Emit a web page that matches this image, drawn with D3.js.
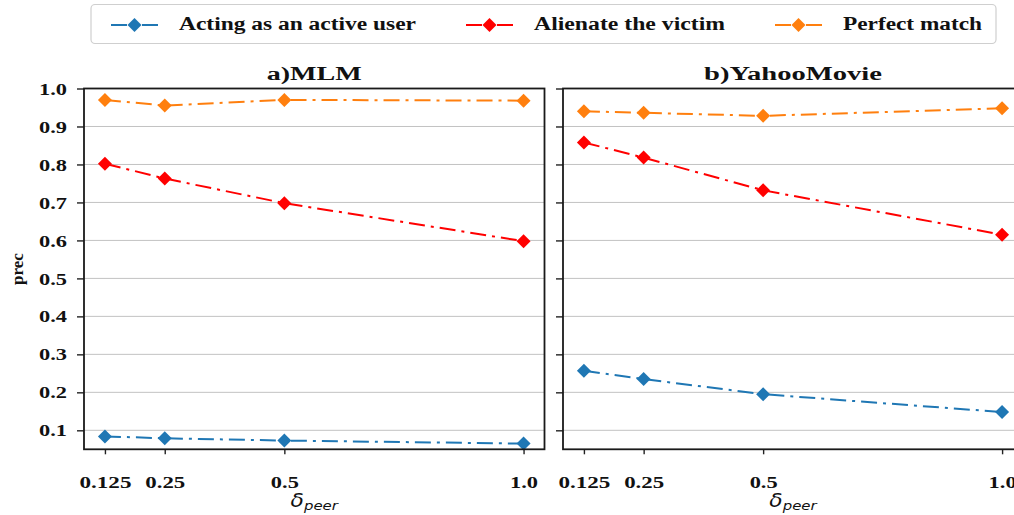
<!DOCTYPE html>
<html>
<head>
<meta charset="utf-8">
<script src="https://cdn.jsdelivr.net/npm/d3@7"></script>
<style>
  html, body { margin: 0; padding: 0; background: #fff; overflow: hidden; }
  svg { display: block; }
</style>
</head>
<body>
<svg id="chart" width="1014" height="515"></svg>
<script>
// ---------- data ----------
const xValues = [0.125, 0.25, 0.5, 1.0];
const xTickLabels = ["0.125", "0.25", "0.5", "1.0"];
const yTicks = [0.1, 0.2, 0.3, 0.4, 0.5, 0.6, 0.7, 0.8, 0.9, 1.0];
const yTickLabels = ["0.1", "0.2", "0.3", "0.4", "0.5", "0.6", "0.7", "0.8", "0.9", "1.0"];
const seriesNames = ["Acting as an active user", "Alienate the victim", "Perfect match"];
const panelTitles = ["a)MLM", "b)YahooMovie"];
const mlmActive   = [0.084, 0.079, 0.073, 0.065];
const mlmAlienate = [0.802, 0.763, 0.698, 0.598];
const mlmPerfect  = [0.970, 0.955, 0.970, 0.968];
const yahooActive   = [0.257, 0.235, 0.195, 0.148];
const yahooAlienate = [0.858, 0.818, 0.732, 0.615];
const yahooPerfect  = [0.940, 0.936, 0.928, 0.948];

// ---------- style / layout ----------
const SERIF = "'Liberation Serif', Tinos, 'Times New Roman', Times, serif";
const colors = ["#1f77b4", "#ff0000", "#ff7f0e"];
const dash = "16,6,3,6";
const svg = d3.select("#chart");
const plotTop = 88.5, plotBottom = 449.3;
const titleWidths = [95, 178];
const legendTextWidths = [237, 191, 139];
const panels = [
  { series: [mlmActive, mlmAlienate, mlmPerfect], x0: 84, x1: 544.5, labels: true },
  { series: [yahooActive, yahooAlienate, yahooPerfect], x0: 563, x1: 1023, labels: false }
];

function serif(sel, size) {
  return sel.style("font-family", SERIF).style("font-weight", "bold")
    .attr("font-size", size).attr("fill", "#111");
}
function fitWidth(sel, w) {
  sel.attr("textLength", w).attr("lengthAdjust", "spacingAndGlyphs");
}
function numWidth(s) {
  const digits = s.replace(/[^0-9]/g, "").length;
  return digits * 12 + 4;
}

const diamond = d3.symbol().type(d3.symbolSquare).size(98)();

panels.forEach((p, pi) => {
  const x = d3.scaleLinear().domain([0.08125, 1.04375]).range([p.x0, p.x1]);
  const y = d3.scaleLinear().domain([0.05, 1.0]).range([plotBottom, plotTop]);
  const g = svg.append("g");

  // grid
  g.append("g").selectAll("line").data(yTicks).join("line")
    .attr("x1", p.x0).attr("x2", p.x1)
    .attr("y1", d => y(d)).attr("y2", d => y(d))
    .attr("stroke", "#c2c2c2").attr("stroke-width", 1);

  // series
  const line = d3.line().x((d, i) => x(xValues[i])).y(d => y(d));
  p.series.forEach((vals, si) => {
    g.append("path").datum(vals)
      .attr("d", line).attr("fill", "none")
      .attr("stroke", colors[si]).attr("stroke-width", 2)
      .attr("stroke-dasharray", dash);
    g.append("g").selectAll("path").data(vals).join("path")
      .attr("d", diamond)
      .attr("transform", (d, i) => `translate(${x(xValues[i])},${y(d)}) rotate(45)`)
      .attr("fill", colors[si]);
  });

  // y axis
  const yAxis = g.append("g").attr("transform", `translate(${p.x0},0)`)
    .call(d3.axisLeft(y).tickValues(yTicks).tickSize(7)
      .tickFormat((d, i) => p.labels ? yTickLabels[i] : ""));
  yAxis.select(".domain").remove();
  yAxis.selectAll("line").attr("stroke", "#222").attr("stroke-width", 1.4);
  serif(yAxis.selectAll("text"), 16).attr("x", -17).attr("dy", "0.35em");
  if (p.labels) yAxis.selectAll("text").each(function (d, i) {
    fitWidth(d3.select(this), numWidth(yTickLabels[i]));
  });

  // x axis
  const xAxis = g.append("g").attr("transform", `translate(0,${plotBottom})`)
    .call(d3.axisBottom(x).tickValues(xValues).tickSize(5)
      .tickFormat((d, i) => xTickLabels[i]));
  xAxis.select(".domain").remove();
  xAxis.selectAll("line").attr("stroke", "#222").attr("stroke-width", 1.4);
  serif(xAxis.selectAll("text"), 16).attr("y", 488.5 - plotBottom).attr("dy", 0);
  xAxis.selectAll("text").each(function (d, i) {
    fitWidth(d3.select(this), numWidth(xTickLabels[i]));
  });

  // spines
  g.append("rect").attr("x", p.x0).attr("y", plotTop)
    .attr("width", p.x1 - p.x0).attr("height", plotBottom - plotTop)
    .attr("fill", "none").attr("stroke", "#1a1a1a").attr("stroke-width", 1.8);

  // title
  const t = serif(g.append("text"), 18)
    .attr("text-anchor", "middle").attr("x", (p.x0 + p.x1) / 2).attr("y", 80)
    .text(panelTitles[pi]);
  fitWidth(t, titleWidths[pi]);

  // x label
  const xl = g.append("text")
    .attr("transform", `translate(${(p.x0 + p.x1) / 2},507) scale(1.15,1)`)
    .attr("text-anchor", "middle")
    .style("font-family", "'DejaVu Sans', sans-serif").style("font-style", "italic")
    .attr("fill", "#111");
  xl.append("tspan").attr("font-size", 19).text("δ");
  xl.append("tspan").attr("font-size", 13).attr("dy", 3).text("peer");
});

// y label
serif(svg.append("text"), 17)
  .attr("transform", "translate(23,269) rotate(-90)")
  .attr("text-anchor", "middle").text("prec");

// legend
const leg = svg.append("g");
leg.append("rect").attr("x", 91).attr("y", 4.5).attr("width", 905).attr("height", 39)
  .attr("rx", 4).attr("fill", "#fff").attr("stroke", "#cfcfcf").attr("stroke-width", 1.2);
let cursor = 111;
seriesNames.forEach((name, i) => {
  leg.append("line").attr("x1", cursor).attr("x2", cursor + 47)
    .attr("y1", 25).attr("y2", 25)
    .attr("stroke", colors[i]).attr("stroke-width", 2).attr("stroke-dasharray", dash);
  leg.append("path").attr("d", diamond)
    .attr("transform", `translate(${cursor + 23.5},25) rotate(45)`).attr("fill", colors[i]);
  const tx = serif(leg.append("text"), 18)
    .attr("x", cursor + 68).attr("y", 30).text(name);
  fitWidth(tx, legendTextWidths[i]);
  cursor = cursor + 68 + legendTextWidths[i] + 50;
});
</script>
</body>
</html>
